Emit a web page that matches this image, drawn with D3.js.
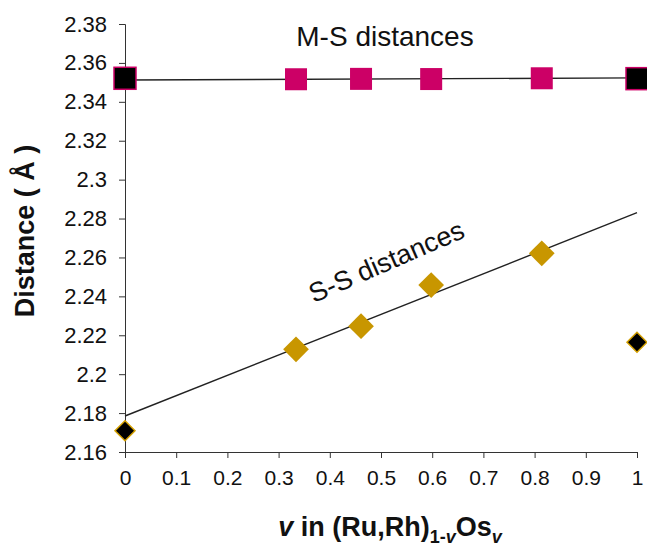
<!DOCTYPE html>
<html>
<head>
<meta charset="utf-8">
<script src="https://cdn.jsdelivr.net/npm/d3@7"></script>
<style>
  body { margin: 0; background: #fff; }
  text { font-family: Arial, "Liberation Sans", sans-serif; fill: #111; }
  .axis path, .axis line { stroke: #333; }
</style>
</head>
<body>
<svg width="647" height="547"></svg>
<script>
// values
var msX = [0, 0.334, 0.461, 0.598, 0.814, 1],
    msY = [2.3521, 2.3516, 2.3518, 2.3517, 2.3521, 2.3519],
    msEnd = [true, false, false, false, false, true];   // black end members
var ssX = [0, 0.334, 0.461, 0.598, 0.814, 1],
    ssY = [2.1709, 2.2128, 2.2247, 2.2458, 2.2621, 2.2164],
    ssEnd = [true, false, false, false, false, true];
var fitMS = [2.3512, 2.3523],   // trend line at v = 0 and v = 1
    fitSS = [2.1785, 2.2830];
var xTicks = d3.range(0, 11).map(function(i) { return i / 10; }),
    yTicks = d3.range(0, 12).map(function(i) { return 2.16 + i * 0.02; });

var svg = d3.select("svg");

var x = d3.scaleLinear()
    .domain([0, 1])
    .range([125, 637]);
var y = d3.scaleLinear()
    .domain([2.16, 2.38])
    .range([452, 24]);

var fmt = function(d) { return d3.format(".2f")(d).replace(/0$/, "").replace(/\.$/, ""); };

svg.append("g")
    .attr("class", "axis")
    .attr("transform", "translate(0," + y(2.16) + ")")
    .call(d3.axisBottom(x).tickValues(xTicks).tickSize(6).tickPadding(12)
      .tickFormat(function(d) { return d3.format(".1f")(d).replace(/\.0$/, ""); }))
    .call(function(g) { g.selectAll("text").style("font-size", "21px").attr("fill", "#111"); });

svg.append("g")
    .attr("class", "axis")
    .attr("transform", "translate(" + x(0) + ",0)")
    .call(d3.axisLeft(y).tickValues(yTicks).tickSize(6).tickPadding(12).tickFormat(fmt))
    .call(function(g) { g.selectAll("text").style("font-size", "22px").attr("fill", "#111"); });

// trend lines
var line = d3.line()
    .x(function(d) { return x(d[0]); })
    .y(function(d) { return y(d[1]); });
svg.append("path")
    .datum([[0, fitMS[0]], [1, fitMS[1]]])
    .attr("d", line)
    .attr("fill", "none")
    .attr("stroke", "#222")
    .attr("stroke-width", 1.4);
svg.append("path")
    .datum([[0, fitSS[0]], [1, fitSS[1]]])
    .attr("d", line)
    .attr("fill", "none")
    .attr("stroke", "#222")
    .attr("stroke-width", 1.4);

// M-S squares
var sq = 22;
svg.append("g").selectAll("rect")
    .data(msX)
  .enter().append("rect")
    .attr("x", function(d) { return x(d) - sq / 2; })
    .attr("y", function(d, i) { return y(msY[i]) - sq / 2; })
    .attr("width", sq)
    .attr("height", sq)
    .attr("fill", function(d, i) { return msEnd[i] ? "#000" : "#cc0066"; })
    .attr("stroke", "#cc0066")
    .attr("stroke-width", function(d, i) { return msEnd[i] ? 1.5 : 0; });

// S-S diamonds
var dia = d3.symbol().type(d3.symbolSquare);
svg.append("g").selectAll("path")
    .data(ssX)
  .enter().append("path")
    .attr("d", function(d, i) { return dia.size(ssEnd[i] ? 200 : 330)(); })
    .attr("transform", function(d, i) { return "translate(" + x(d) + "," + y(ssY[i]) + ") rotate(45)"; })
    .attr("fill", function(d, i) { return ssEnd[i] ? "#000" : "#c89600"; })
    .attr("stroke", "#d4a000")
    .attr("stroke-width", function(d, i) { return ssEnd[i] ? 1.5 : 0; });

// labels
svg.append("text")
    .attr("x", 385)
    .attr("y", 46)
    .attr("text-anchor", "middle")
    .style("font-size", "28px")
    .text("M-S distances");

svg.append("text")
    .attr("transform", "translate(390,270) rotate(-23.5)")
    .attr("text-anchor", "middle")
    .style("font-size", "27px")
    .text("S-S distances");

svg.append("text")
    .attr("transform", "translate(34,231) rotate(-90)")
    .attr("text-anchor", "middle")
    .style("font-size", "27px")
    .style("font-weight", "bold")
    .text("Distance ( Å )");

var xl = svg.append("text")
    .attr("x", 390)
    .attr("y", 536)
    .attr("text-anchor", "middle")
    .style("font-size", "27px")
    .style("font-weight", "bold");
xl.append("tspan").style("font-style", "italic").text("v");
xl.append("tspan").text(" in (Ru,Rh)");
xl.append("tspan").attr("dy", 7).style("font-size", "18px").text("1-");
xl.append("tspan").style("font-size", "18px").style("font-style", "italic").text("v");
xl.append("tspan").attr("dy", -7).text("Os");
xl.append("tspan").attr("dy", 7).style("font-size", "18px").style("font-style", "italic").text("v");
</script>
</body>
</html>
